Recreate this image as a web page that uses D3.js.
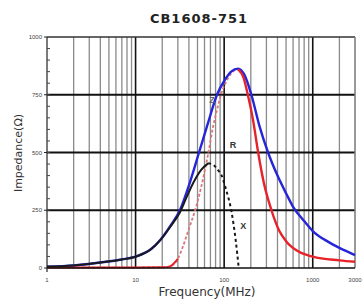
<!DOCTYPE html>
<html>
<head>
<meta charset="utf-8">
<script src="https://cdn.jsdelivr.net/npm/d3@7"></script>
<style>
  body { margin: 0; background: #fff; }
  svg { display: block; font-family: "Liberation Sans", Arial, sans-serif; }
</style>
</head>
<body>
<svg width="363" height="307"></svg>
<script>
// values (frequency in MHz, impedance in ohm)
var zFreq = [1, 2, 4, 7, 10, 15, 19, 25, 31.6, 41, 52, 66, 83, 102, 120, 144, 170, 203, 250, 313, 400, 505, 600, 800, 1000, 1500, 2000, 3000];
var zVals = [6, 11, 24, 37, 49, 82, 121, 185, 250, 370, 500, 630, 750, 815, 850, 863, 835, 750, 615, 500, 400, 320, 265, 203, 160, 113, 87, 56];

var rFreq = [1, 5, 10, 20, 24, 30, 34, 40, 47, 55, 66, 75, 85, 93, 110, 130, 144, 165, 185, 212, 242, 280, 342, 420, 505, 700, 1000, 2000, 3000];
var rVals = [2, 2, 2, 3, 6, 40, 90, 170, 250, 350, 495, 612, 700, 756, 820, 855, 860, 825, 750, 640, 500, 370, 250, 160, 114, 70, 49, 33, 27];
var rPeak = 16; // index where R turns from dashed to solid

var xFreq = [1, 2, 4, 7, 10, 15, 19, 25, 31.6, 38, 45, 55, 66, 75, 85, 93, 105, 121, 135, 146];
var xVals = [6, 11, 24, 37, 49, 82, 121, 182, 240, 310, 370, 425, 453, 447, 425, 403, 340, 244, 120, 0];
var xPeak = 12;

var yTicks = [0, 250, 500, 750, 1000];
var xLabels = [1, 10, 100, 1000, 3000];
var curveLabels = [
  { t: "Z", f: 68, v: 715, c: "#666" },
  { t: "R", f: 116, v: 520, c: "#333" },
  { t: "X", f: 152, v: 170, c: "#333" }
];

var svg = d3.select("svg"),
  margin = { top: 37, right: 8, bottom: 39, left: 47 },
  width = +svg.attr("width") - margin.left - margin.right,
  height = +svg.attr("height") - margin.top - margin.bottom;

var x = d3.scaleLog().domain([1, 3000]).range([margin.left, margin.left + width]);
var y = d3.scaleLinear().domain([0, 1000]).range([margin.top + height, margin.top]);

// vertical grid
var vg = x.ticks().filter(function (d) { return d > 1 && d < 3000; });
svg.append("g").selectAll("line").data(vg).enter().append("line")
  .attr("x1", function (d) { return x(d); })
  .attr("x2", function (d) { return x(d); })
  .attr("y1", y(1000)).attr("y2", y(0))
  .attr("stroke", function (d) { return Math.log10(d) % 1 === 0 ? "#111" : "#8a8a8a"; })
  .attr("stroke-width", function (d) { return Math.log10(d) % 1 === 0 ? 1.6 : 1.3; });

// horizontal grid
svg.append("g").selectAll("line").data([250, 500, 750]).enter().append("line")
  .attr("x1", x(1)).attr("x2", x(3000))
  .attr("y1", function (d) { return y(d); })
  .attr("y2", function (d) { return y(d); })
  .attr("stroke", "#111").attr("stroke-width", 2);

// frame
svg.append("line").attr("x1", x(1)).attr("x2", x(3000)).attr("y1", y(1000)).attr("y2", y(1000))
  .attr("stroke", "#333").attr("stroke-width", 1.5);
svg.append("line").attr("x1", x(3000)).attr("x2", x(3000)).attr("y1", y(1000)).attr("y2", y(0))
  .attr("stroke", "#777").attr("stroke-width", 1.5);
svg.append("line").attr("x1", x(1)).attr("x2", x(1)).attr("y1", y(1000)).attr("y2", y(0) + 4)
  .attr("stroke", "#222").attr("stroke-width", 1.2);

// y minor ticks
svg.append("g").selectAll("line").data(d3.range(50, 1000, 50)).enter().append("line")
  .attr("x1", x(1)).attr("x2", x(1) + 3)
  .attr("y1", function (d) { return y(d); })
  .attr("y2", function (d) { return y(d); })
  .attr("stroke", "#444").attr("stroke-width", 1);

// y labels
svg.append("g").selectAll("text").data(yTicks).enter().append("text")
  .attr("x", x(1) - 5)
  .attr("y", function (d) { return y(d) + 2; })
  .attr("text-anchor", "end")
  .attr("font-size", 6)
  .attr("fill", "#444")
  .text(function (d) { return d; });
svg.append("g").selectAll("line").data(yTicks).enter().append("line")
  .attr("x1", x(1) - 3).attr("x2", x(1))
  .attr("y1", function (d) { return y(d); })
  .attr("y2", function (d) { return y(d); })
  .attr("stroke", "#222");

// curves
var line = d3.line()
  .x(function (d) { return x(d[0]); })
  .y(function (d) { return y(d[1]); })
  .curve(d3.curveMonotoneX);

var zPts = d3.zip(zFreq, zVals);
var rPts = d3.zip(rFreq, rVals);
var xPts = d3.zip(xFreq, xVals);

svg.append("path").attr("d", line(rPts.slice(0, rPeak + 1)))
  .attr("fill", "none").attr("stroke", "#d9777a").attr("stroke-width", 1.8)
  .attr("stroke-dasharray", "3,2");
svg.append("path").attr("d", line(zPts))
  .attr("fill", "none").attr("stroke", "#2626d8").attr("stroke-width", 2.4);
svg.append("path").attr("d", line(rPts.slice(rPeak)))
  .attr("fill", "none").attr("stroke", "#e6222a").attr("stroke-width", 2.4);
svg.append("path").attr("d", line(rPts.slice(0, 6)))
  .attr("fill", "none").attr("stroke", "#e6222a").attr("stroke-width", 2);
svg.append("path").attr("d", line(xPts.slice(0, xPeak + 1)))
  .attr("fill", "none").attr("stroke", "#1a1a1a").attr("stroke-width", 2);
svg.append("path").attr("d", line(xPts.slice(xPeak)))
  .attr("fill", "none").attr("stroke", "#1a1a1a").attr("stroke-width", 2)
  .attr("stroke-dasharray", "3,3");

// bottom axis line
svg.append("line").attr("x1", x(1)).attr("x2", x(3000)).attr("y1", y(0)).attr("y2", y(0))
  .attr("stroke", "#111").attr("stroke-width", 1.6);

// curve labels
svg.append("g").selectAll("text").data(curveLabels).enter().append("text")
  .attr("x", function (d) { return x(d.f); })
  .attr("y", function (d) { return y(d.v); })
  .attr("font-size", 9).attr("font-weight", "bold")
  .attr("fill", function (d) { return d.c; })
  .text(function (d) { return d.t; });

// x labels
svg.append("g").selectAll("text").data(xLabels).enter().append("text")
  .attr("x", function (d) { return x(d); })
  .attr("y", y(0) + 14)
  .attr("text-anchor", "middle")
  .attr("font-size", 6)
  .attr("fill", "#444")
  .text(function (d) { return d; });

// titles
svg.append("text").attr("x", 199).attr("y", 23)
  .attr("text-anchor", "middle").attr("font-size", 13).attr("font-weight", "bold")
  .attr("font-family", "DejaVu Sans").attr("letter-spacing", 1)
  .attr("fill", "#222").text("CB1608-751");
svg.append("text").attr("x", 207).attr("y", 296)
  .attr("text-anchor", "middle").attr("font-size", 12)
  .attr("font-family", "DejaVu Sans")
  .attr("fill", "#333").text("Frequency(MHz)");
svg.append("text")
  .attr("transform", "translate(22,153) rotate(-90)")
  .attr("text-anchor", "middle").attr("font-size", 11)
  .attr("font-family", "DejaVu Sans")
  .attr("fill", "#333").text("Impedance(Ω)");
</script>
</body>
</html>
